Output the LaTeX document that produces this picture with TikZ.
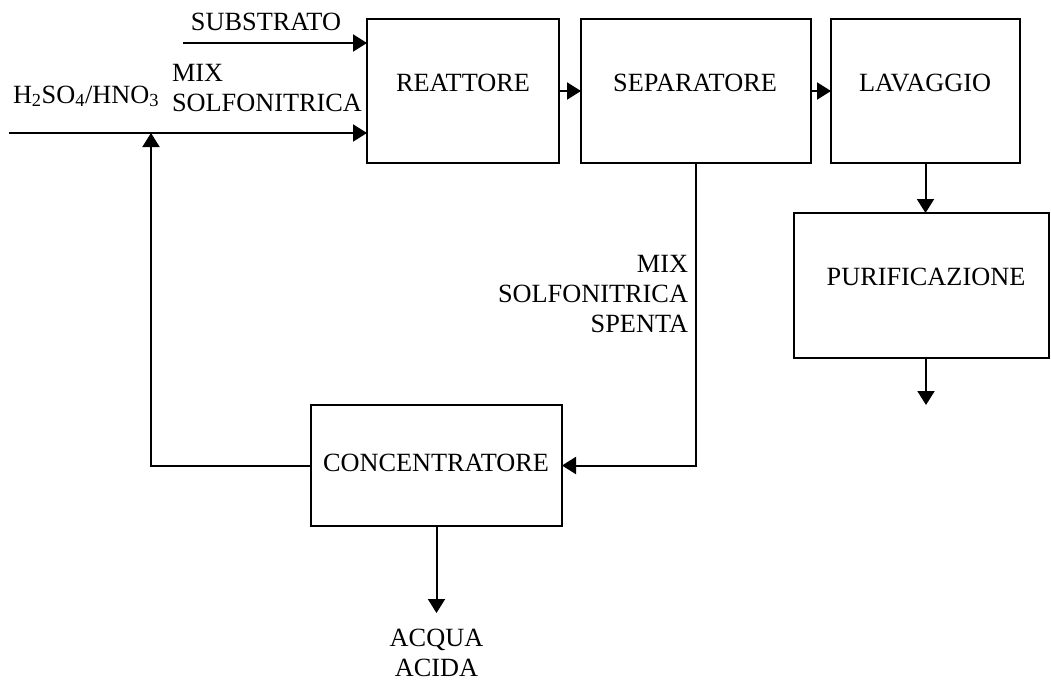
\documentclass[tikz,border=0pt]{standalone}
\usepackage{fontspec}
\setmainfont{Liberation Serif}
\usetikzlibrary{arrows.meta,calc}
\begin{document}
\begin{tikzpicture}[x=1pt,y=-1pt,
  font=\fontsize{26.3}{30}\selectfont,
  every node/.style={inner sep=0pt,outer sep=0pt},
  unitbox/.style={draw,line width=2pt,rectangle},
  lbl/.style={},
  flow/.style={line width=2pt,-{Triangle[length=14pt,width=17pt]}},
  plain/.style={line width=2pt}]
\useasboundingbox (0,0) rectangle (1051,683);
% boxes
\node[unitbox,minimum width=192pt,minimum height=144pt] (reat) at (463,91) {};
\node[unitbox,minimum width=230pt,minimum height=144pt] (sep) at (696,91) {};
\node[unitbox,minimum width=189pt,minimum height=144pt] (lav) at (925.5,91) {};
\node[unitbox,minimum width=255pt,minimum height=145pt] (pur) at (921.5,285.5) {};
\node[unitbox,minimum width=251pt,minimum height=121pt] (conc) at (436.5,465.5) {};
% box labels
\node[lbl] (reatT) at (463,83) {REATTORE};
\node[lbl] (sepT) at (695,83) {SEPARATORE};
\node[lbl] (lavT) at (925,83) {LAVAGGIO};
\node[lbl] (purT) at (926,277) {PURIFICAZIONE};
\node[lbl] (concT) at (436,463) {CONCENTRATORE};
% free-end coordinates
\coordinate (subS) at (183,43);
\coordinate (mixS) at (9,133);
\coordinate (recyc) at (151,133);
\coordinate (purOut) at (926,405);
\coordinate (acqOut) at (436.5,613);
% connectors
\draw[flow] (subS) -- (subS -| reat.west);
\draw[flow] (mixS) -- (mixS -| reat.west);
\draw[flow] (reat.east) -- (sep.west);
\draw[flow] (sep.east) -- (lav.west);
\draw[flow] (lav.south) -- (lav.south |- pur.north);
\draw[flow] (purOut |- pur.south) -- (purOut);
\draw[flow] (sep.south) |- (conc.east);
\draw[flow] (conc.west) -| (recyc);
\draw[flow] (conc.south) -- (acqOut);
% stream labels
\node[lbl] (subT) at (266,22) {SUBSTRATO};
\node[lbl,anchor=base west] (acidT) at (13,103) {H\textsubscript{2}SO\textsubscript{4}/HNO\textsubscript{3}};
\node[lbl,anchor=west,align=left] (mixT) at (172,88) {MIX\\SOLFONITRICA};
\node[lbl,anchor=east,align=right] (spentT) at (688,294) {MIX\\SOLFONITRICA\\SPENTA};
\node[lbl,align=center] (acqT) at (436.5,653) {ACQUA\\ACIDA};
\end{tikzpicture}
\end{document}
